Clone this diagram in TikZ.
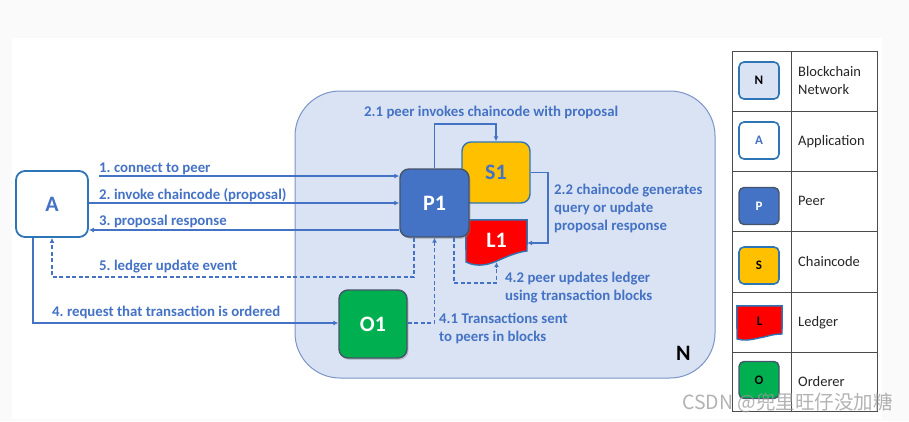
\documentclass[tikz,border=0pt]{standalone}
\usepackage{fontspec}
\setmainfont{Carlito}
\newfontfamily\cjk{Noto Sans CJK SC}
\usetikzlibrary{arrows.meta,shadows,calc}
\definecolor{lblue}{HTML}{4472C4}
\definecolor{bord}{HTML}{2E75B6}
\definecolor{netfill}{HTML}{DAE3F3}
\definecolor{netbord}{HTML}{7A94C8}
\definecolor{gborder}{HTML}{44546A}
\definecolor{ccode}{HTML}{FFC000}
\definecolor{ogreen}{HTML}{00B050}
\definecolor{pagebg}{HTML}{FAFAFA}
\definecolor{legtext}{HTML}{262626}
\frenchspacing
\begin{document}
\begin{tikzpicture}[x=1pt,y=-1pt,
  lbl/.style={font=\fontsize{14.8}{18}\selectfont\bfseries\frenchspacing, text=lblue, inner sep=0pt, align=left},
  conn/.style={draw=lblue, line width=1.4pt, -{Latex[length=5pt,width=5pt]}},
  dsh/.style={dash pattern=on 4pt off 2.5pt},
  bigbox/.style={rounded corners=9pt, font=\fontsize{22}{26}\selectfont\bfseries, inner sep=0pt},
  shad/.style={drop shadow={opacity=0.35, shadow xshift=1.5pt, shadow yshift=-1.8pt}},
  icon/.style={rounded corners=5pt, minimum width=40pt, minimum height=37pt, inner sep=0pt, font=\fontsize{13}{15}\selectfont\bfseries},
  legtxt/.style={anchor=base west, inner sep=0pt, font=\fontsize{14.5}{18}\selectfont, text=legtext, align=left}
]
\useasboundingbox (0,0) rectangle (909,421);
\fill[pagebg] (0,0) rectangle (909,421);
\fill[white] (12,38) rectangle (882,419);

% network
\node[draw=netbord, fill=netfill, line width=1pt, rounded corners=45pt, minimum width=420pt, minimum height=287pt] (N) at (505,234.5) {};
\node[anchor=base west, inner sep=0pt, font=\fontsize{22}{26}\selectfont\bfseries] (Nlbl) at (676,360) {N};

% application
\node[bigbox, draw=bord, fill=white, line width=1.8pt, minimum width=72pt, minimum height=66pt, text=lblue] (A) at (52,204) {A};

% chaincode
\node[bigbox, draw=bord, fill=ccode, line width=1.4pt, minimum width=68pt, minimum height=61pt, text=lblue] (S1) at (496,172.5) {S1};

% ledger
\node[minimum width=61pt, minimum height=42pt, inner sep=0pt] (L1) at (496.5,241) {};
\filldraw[fill=red, draw=bord, line width=1.4pt]
  (L1.north west) -- (L1.north east) -- (527,251)
  .. controls (518,252) and (508,256) .. (497,261)
  .. controls (490,264) and (478,268) .. (466,262) -- cycle;
\node[font=\fontsize{22}{26}\selectfont\bfseries, text=white, inner sep=0pt] (L1t) at (496.5,240) {L1};

% peer
\node[bigbox, shad, draw=gborder, fill=lblue, line width=1.4pt, minimum width=69pt, minimum height=68pt, text=white] (P1) at (434.5,203) {P1};

% orderer
\node[bigbox, shad, draw=gborder, fill=ogreen, line width=1.4pt, minimum width=68pt, minimum height=68pt, text=white] (O1) at (373,324) {O1};

% free ends
\coordinate (c1) at (99,176);

% connectors
\draw[conn] (c1) -- (P1.west |- c1);
\draw[conn] (A.east |- 0,203) -- (P1.west |- 0,203);
\draw[conn] (P1.west |- 0,230) -- (A.east |- 0,230);
\draw[conn, dsh] (P1.south -| 414,0) -- (414,277) -| (A.south);
\draw[conn] (A.south -| 33,0) -- (33,323) -- (O1.west |- 0,323);
\draw[conn, dsh] (O1.east |- 0,323) -| (P1.south);
\draw[conn, dsh] (P1.south -| 454,0) -- (454,283) -| (L1.south);
\draw[conn] (P1.north) -- (434.5,124) -| (S1.north);
\draw[conn] (S1.east) -- (548,172.5) |- (L1.east |- 0,243);

% labels
\node[lbl, anchor=base west] (t1) at (99,172) {1. connect to peer};
\node[lbl, anchor=base west] (t2) at (99,199) {2. invoke chaincode (proposal)};
\node[lbl, anchor=base west] (t3) at (99,225.5) {3. proposal response};
\node[lbl, anchor=base west] (t5) at (99,270) {5. ledger update event};
\node[lbl, anchor=base west] (t4) at (52,316.5) {4. request that transaction is ordered};
\node[lbl, anchor=base west] (t21) at (364,116.5) {2.1 peer invokes chaincode with proposal};
\node[lbl, anchor=base west] (t22) at (554,230) {2.2 chaincode generates\\query or update\\proposal response};
\node[lbl, anchor=base west] (t42) at (505,300.5) {4.2 peer updates ledger\\using transaction blocks};
\node[lbl, anchor=base west] (t41) at (439,341.5) {4.1 Transactions sent\\to peers in blocks};

% legend table
\draw[draw=black!70, line width=0.9pt] (732,51) rectangle (877,411);
\draw[draw=black!70, line width=0.9pt] (791,51) -- (791,411);
\foreach \yy in {111,171,231,292,352}
  \draw[draw=black!70, line width=0.9pt] (732,\yy) -- (877,\yy);

\node[icon, draw=bord, fill=netfill, line width=1.6pt] (iN) at (759,80.5) {N};
\node[icon, draw=bord, fill=white, line width=1.6pt, text=lblue] (iA) at (759,140.5) {A};
\node[icon, draw=gborder, fill=lblue, line width=1.4pt, text=white] (iP) at (759,206) {P};
\node[icon, draw=bord, fill=ccode, line width=1.6pt] (iS) at (759,265.5) {S};
\node[minimum width=45pt, minimum height=34pt, inner sep=0pt] (iL) at (759.5,323) {};
\filldraw[fill=red, draw=bord, line width=1.4pt]
  (iL.north west) -- (iL.north east) -- (782,334)
  .. controls (772,334) and (766,337) .. (759,338)
  .. controls (750,340) and (744,341) .. (737,339) -- cycle;
\node[font=\fontsize{13}{15}\selectfont\bfseries, inner sep=0pt] (iLt) at (759.5,321) {L};
\node[icon, draw=gborder, fill=ogreen, line width=1.4pt] (iO) at (759,380) {O};

\node[legtxt] (lN) at (798,94) {Blockchain\\Network};
\node[legtxt] (lA) at (798,145) {Application};
\node[legtxt] (lP) at (798,205) {Peer};
\node[legtxt] (lS) at (798,266) {Chaincode};
\node[legtxt] (lL) at (798,326) {Ledger};
\node[legtxt] (lO) at (798,386) {Orderer};

% watermark
\node[anchor=west, inner sep=0pt, font=\cjk\fontsize{19.5}{20}\selectfont, text=black!40, opacity=0.75] (wm) at (682,403) {CSDN @兜里旺仔没加糖};
\end{tikzpicture}
\end{document}
